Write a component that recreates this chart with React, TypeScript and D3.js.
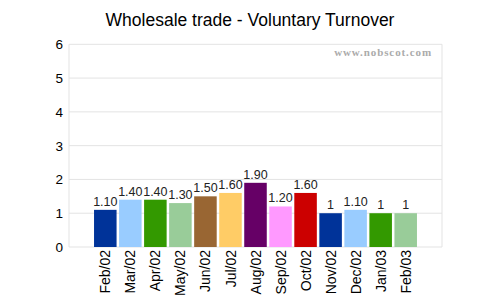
import React from "react";
import * as d3 from "d3";

const categories = ["Feb/02","Mar/02","Apr/02","May/02","Jun/02","Jul/02","Aug/02","Sep/02","Oct/02","Nov/02","Dec/02","Jan/03","Feb/03"];
const values = [1.1,1.4,1.4,1.3,1.5,1.6,1.9,1.2,1.6,1,1.1,1,1];
const colors = ["#003399","#99ccff","#339900","#99cc99","#996633","#ffcc66","#660066","#ff99ff","#cc0000","#003399","#99ccff","#339900","#99cc99"];
const yTicks = [0,1,2,3,4,5,6];
const title = "Wholesale trade - Voluntary Turnover";
const watermark = "www.nobscot.com";

const W = 500, H = 300;
const left = 69, right = 442, top = 44.3, bottom = 247;

export default function App() {
  const x = d3.scaleBand<string>().domain(categories).range([left, right]).paddingInner(0.1).paddingOuter(1);
  const y = d3.scaleLinear().domain([0, 6]).range([bottom, top]);
  const fmt = (v: number) => (Number.isInteger(v) ? String(v) : v.toFixed(2));
  const font = "Liberation Sans, Arial, sans-serif";
  return (
    <svg width={W} height={H} style={{ position: "absolute", left: 0, top: 0, background: "#fff" }} fontFamily={font}>
      <rect x={0} y={0} width={W} height={H} fill="#fff" />
      <text x={250} y={25.5} textAnchor="middle" fontSize={17.5} fill="#000">{title}</text>
      {yTicks.map((t) => (
        <g key={t}>
          <line x1={left} x2={right} y1={y(t)} y2={y(t)} stroke="#e3e3e3" strokeWidth={1} />
          <text x={63} y={y(t)} dy="0.36em" textAnchor="end" fontSize={13.5} fill="#000">{t}</text>
        </g>
      ))}
      <line x1={left} x2={left} y1={top} y2={bottom} stroke="#e3e3e3" />
      <line x1={right} x2={right} y1={top} y2={bottom} stroke="#e3e3e3" />
      <text x={432} y={55.5} textAnchor="end" fontSize={11} letterSpacing={0.9} fontWeight="bold" fontFamily="Liberation Serif, serif" fill="#ababab">{watermark}</text>
      {categories.map((c, i) => (
        <g key={c}>
          <rect x={x(c)} y={y(values[i])} width={x.bandwidth()} height={y(0) - y(values[i])} fill={colors[i]} />
          <text x={(x(c) as number) + x.bandwidth() / 2} y={y(values[i]) - 4} textAnchor="middle" fontSize={12.5} fill="#222">{fmt(values[i])}</text>
          <text transform={`translate(${(x(c) as number) + x.bandwidth() / 2},${bottom + 3}) rotate(-90)`} textAnchor="end" dy="0.36em" fontSize={14} fill="#000">{c}</text>
        </g>
      ))}
    </svg>
  );
}
